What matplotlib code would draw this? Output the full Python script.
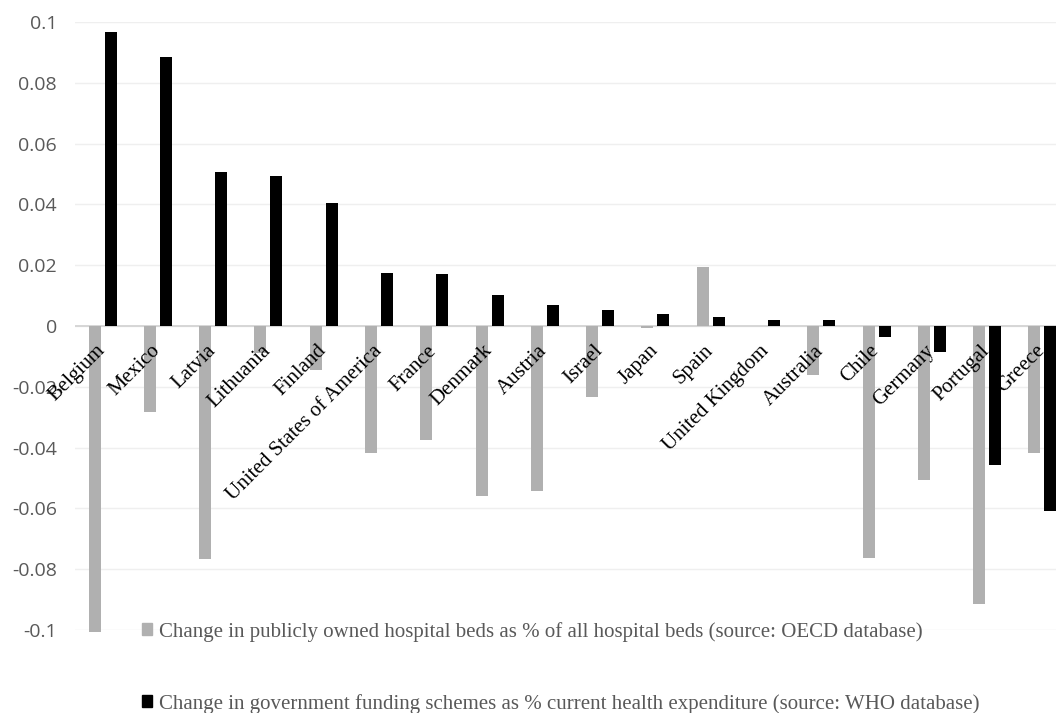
import matplotlib.pyplot as plt
import matplotlib.patches as mpatches
import numpy as np

countries = ["Belgium", "Mexico", "Latvia", "Lithuania", "Finland",
             "United States of America", "France", "Denmark", "Austria",
             "Israel", "Japan", "Spain", "United Kingdom", "Australia",
             "Chile", "Germany", "Portugal", "Greece"]

beds = [-0.1005, -0.0282, -0.0767, -0.0090, -0.0145, -0.0419, -0.0376,
        -0.0558, -0.0542, -0.0232, -0.0008, 0.0195, 0.0, -0.0161,
        -0.0764, -0.0508, -0.0916, -0.0417]

funding = [0.0966, 0.0886, 0.0508, 0.0494, 0.0405, 0.0173, 0.0171,
           0.0101, 0.0069, 0.0053, 0.0039, 0.0030, 0.0020, 0.0020,
           -0.0035, -0.0085, -0.0458, -0.0609]

yticks = [-0.1, -0.08, -0.06, -0.04, -0.02, 0, 0.02, 0.04, 0.06, 0.08, 0.1]
ytick_labels = ["-0.1", "-0.08", "-0.06", "-0.04", "-0.02", "0",
                "0.02", "0.04", "0.06", "0.08", "0.1"]

label_beds = "Change in publicly owned hospital beds as % of all hospital beds (source: OECD database)"
label_funding = "Change in government funding schemes as % current health expenditure (source: WHO database)"

grey = "#b0b0b0"
serif = ["Liberation Serif", "DejaVu Serif"]

fig = plt.figure(figsize=(10.56, 7.13), dpi=100)
ax = fig.add_axes([0.0710, 0.1164, 0.9423, 0.8527])

x = np.arange(len(countries))
w = 0.217
ax.bar(x - 0.145, beds, w, color=grey, clip_on=False, zorder=3)
ax.bar(x + 0.145, funding, w, color="black", clip_on=False, zorder=3)

ax.set_xlim(-0.5, len(countries) - 0.5)
ax.set_ylim(-0.1, 0.1)
ax.set_yticks(yticks)
ax.set_yticklabels(ytick_labels, fontsize=14, color="#595959",
                   family=["Open Sans", "DejaVu Sans"])
ax.tick_params(axis="y", length=0, pad=13)
ax.set_xticks([])
ax.grid(axis="y", color="#efefef", linewidth=1, zorder=0)
ax.axhline(0, color="#d4d4d4", linewidth=1.3, zorder=2)
for s in ax.spines.values():
    s.set_visible(False)

# country names hang just under the zero line
for xi, name in zip(x, countries):
    ax.annotate(name, xy=(xi, 0), xytext=(-5, -11), textcoords="offset points",
                rotation=45, ha="right", va="top", rotation_mode="anchor",
                fontsize=15, family=serif, color="black", zorder=4)

handles = [mpatches.Patch(color=grey, label=label_beds),
           mpatches.Patch(color="black", label=label_funding)]
leg = fig.legend(handles=handles, loc="upper left", bbox_to_anchor=(0.1345, 0.128),
                 frameon=False, prop={"family": serif, "size": 15},
                 labelspacing=2.5, handlelength=0.5, handleheight=0.5,
                 handletextpad=0.3, borderpad=0, borderaxespad=0)
for t in leg.get_texts():
    t.set_color("#595959")

fig.savefig("out.png", dpi=100)
